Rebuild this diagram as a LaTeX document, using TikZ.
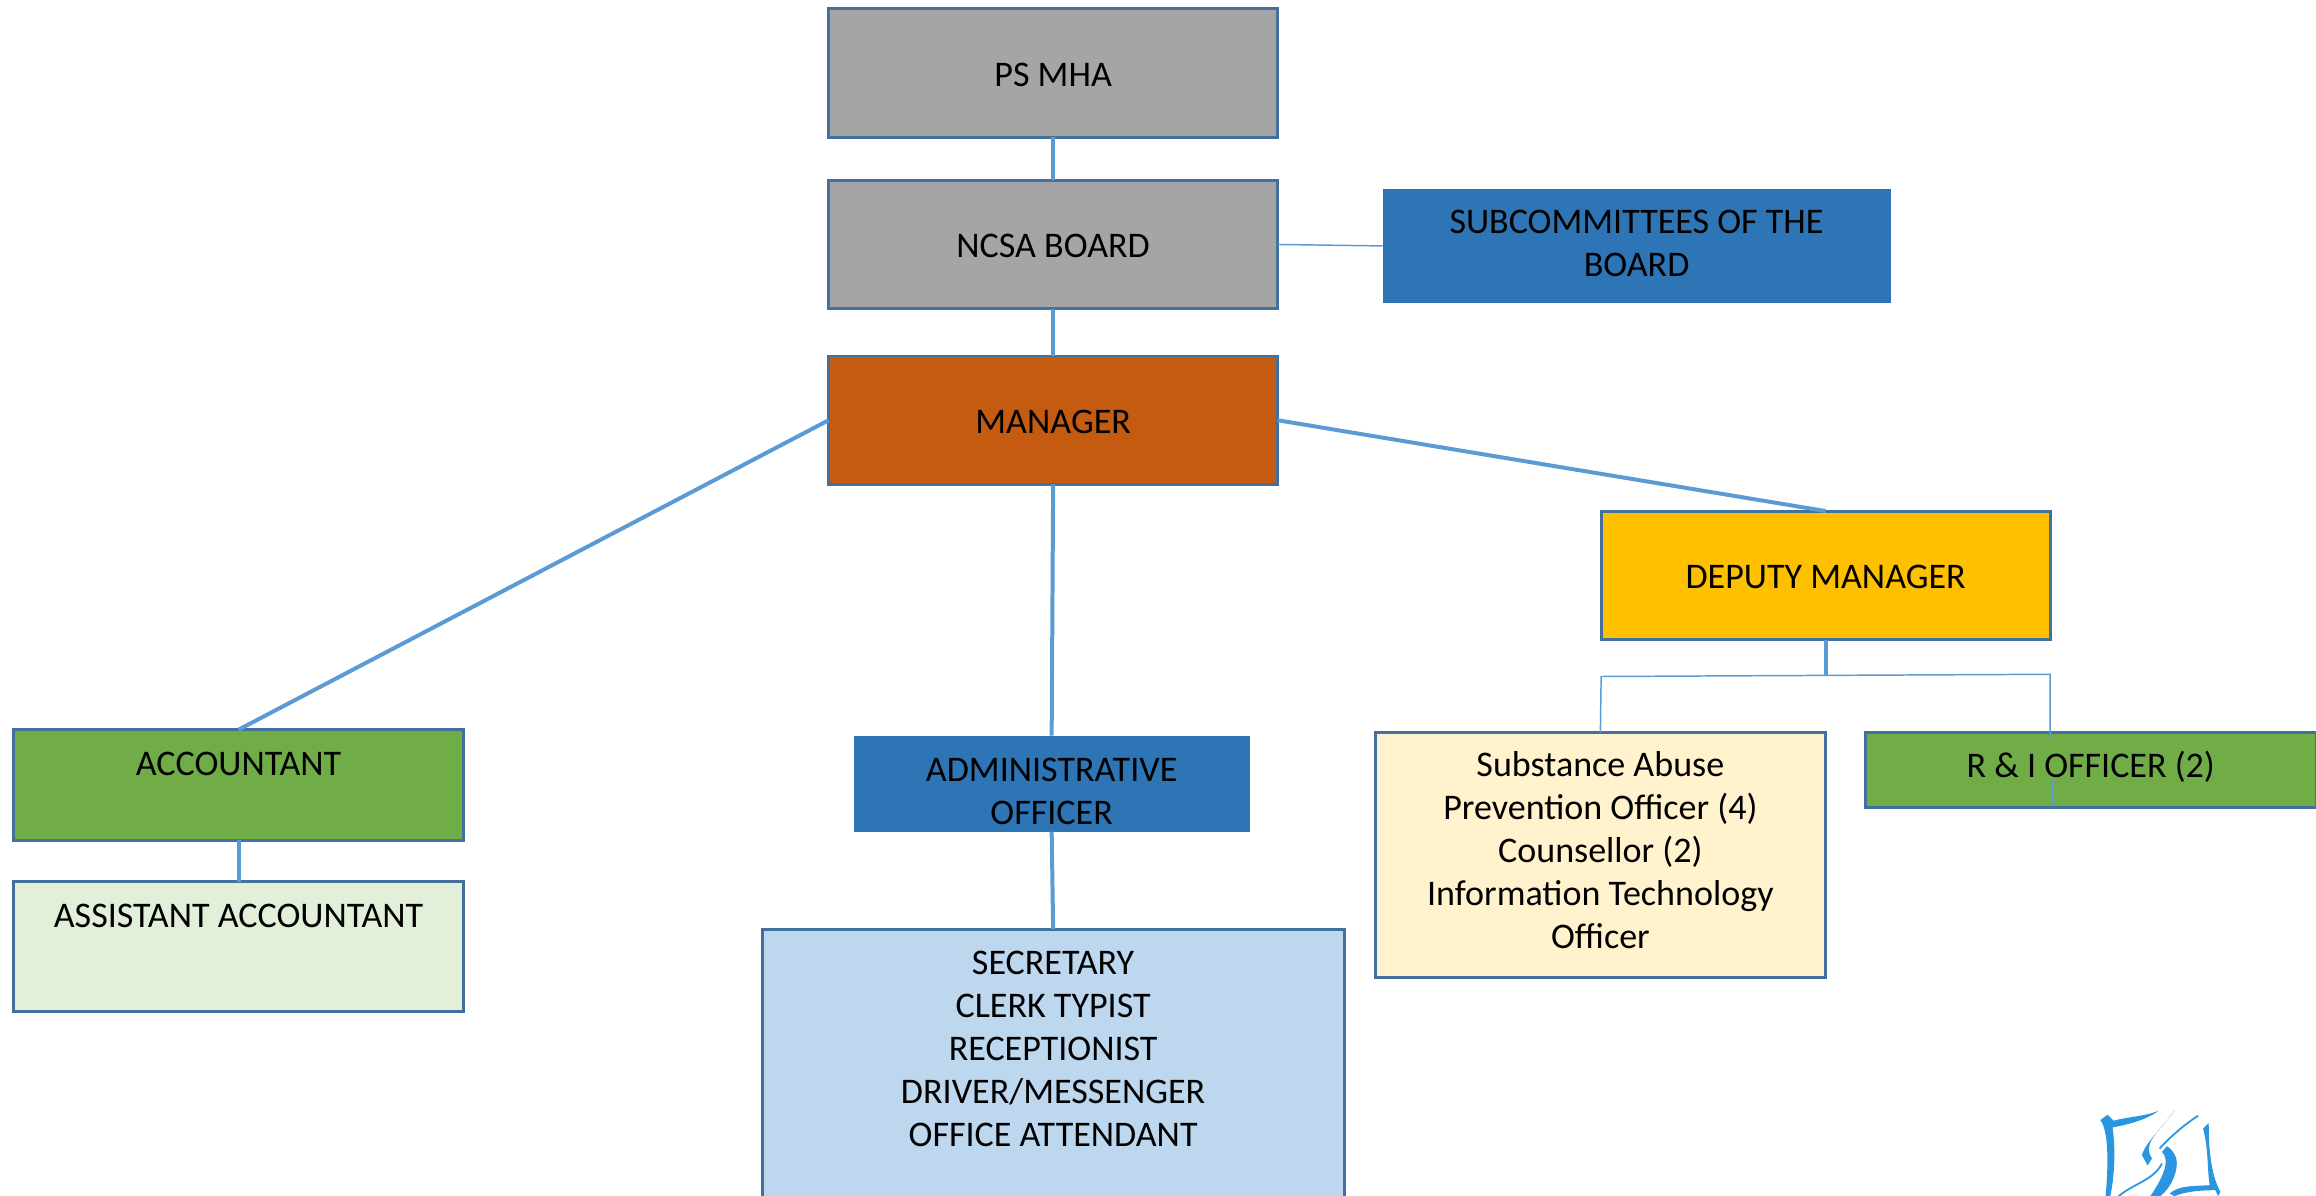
\documentclass[tikz,border=0pt]{standalone}
\usepackage{fontspec}
\setmainfont{Carlito}
\usepackage{tikz}
\usetikzlibrary{positioning}
\definecolor{linkblue}{HTML}{5B9BD5}
\definecolor{edgeblue}{HTML}{41719C}
\definecolor{logoblue}{HTML}{2A96E0}
\definecolor{greybox}{HTML}{A5A5A5}
\definecolor{orangebox}{HTML}{C55A11}
\definecolor{yellowbox}{HTML}{FFC000}
\definecolor{greenbox}{HTML}{70AD47}
\definecolor{palegreen}{HTML}{E2EFD9}
\definecolor{bluebox}{HTML}{2E75B6}
\definecolor{paleblue}{HTML}{BDD7EE}
\definecolor{cream}{HTML}{FFF2CC}
\tikzset{
  office/.style={draw=edgeblue, line width=1pt, align=center, inner sep=0pt, outer sep=0pt,
    font=\fontsize{12.2}{14.6}\selectfont},
  flat/.style={office, draw=none},
  oneline/.style={office, text height=9pt},
  link/.style={draw=linkblue, line width=1.35pt},
  thinlink/.style={draw=linkblue, line width=.5pt}
}
\newcommand{\drawl}{\draw[link]}
\newcommand{\drawt}{\draw[thinlink]}

\begin{document}
\begin{tikzpicture}[x=.5pt,y=-.5pt]
\useasboundingbox (0,0) rectangle (1568,809.7);

% Top of the chart
\node[oneline, fill=greybox, minimum width=152pt, minimum height=43.5pt] (psmha) at (713,49.5) {PS MHA};
\node[oneline, fill=greybox, minimum width=152pt, minimum height=43.5pt] (board) at (713,165.5) {NCSA BOARD};
\node[flat, text height=21pt, fill=bluebox, minimum width=172pt, minimum height=38.5pt] (subcom) at (1108,166.5) {SUBCOMMITTEES OF THE\\BOARD};
\node[oneline, fill=orangebox, minimum width=152pt, minimum height=43.5pt] (manager) at (713,284.5) {MANAGER};
\node[oneline, fill=yellowbox, minimum width=152pt, minimum height=43.5pt] (deputy) at (1236,389.5) {DEPUTY MANAGER};

% Left branch
\node[office, fill=greenbox, minimum width=152.5pt, minimum height=37.5pt] (accountant) at (161.5,531.5) {ACCOUNTANT\\\mbox{}};
\node[office, fill=palegreen, minimum width=152.5pt, minimum height=44pt] (assistant) at (161.5,641) {ASSISTANT ACCOUNTANT\\[6.4pt]\mbox{}};

% Middle branch
\node[flat, text height=28pt, fill=bluebox, minimum width=134pt, minimum height=32.5pt] (admin) at (712,530.5) {ADMINISTRATIVE\\OFFICER};
\node[office, fill=paleblue, minimum width=197pt, minimum height=92pt] (staff) at (713,721) {SECRETARY\\CLERK TYPIST\\RECEPTIONIST\\DRIVER/MESSENGER\\OFFICE ATTENDANT\\[-3.6pt]\mbox{}};

% Right branch
\node[office, fill=cream, minimum width=152.5pt, minimum height=83pt] (officers) at (1083.5,579) {Substance Abuse\\Prevention Officer (4)\\Counsellor (2)\\Information Technology\\Officer\\[-11pt]\mbox{}};
\node[office, fill=greenbox, minimum width=152.5pt, minimum height=25.5pt] (records) at (1415.5,521.5) {R \& I OFFICER (2)\\[-10.5pt]\mbox{}};

% Connectors
\drawl (psmha.south) -- (board.north);
\drawt (board.east) -- (subcom.west);
\drawl (board.south) -- (manager.north);
\drawl (manager.west) -- (accountant.north);
\drawl (accountant.south) -- (assistant.north);
\drawl (manager.south) -- (admin.north);
\drawl (admin.south) -- (staff.north);
\drawl (manager.east) -- (deputy.north);

\coordinate (fork) at (1236,457);
\coordinate (forkleft) at (1084,458);
\coordinate (forkright) at (1388,456.5);
\coordinate (recordstop) at (1388,499);
\drawl (deputy.south) -- (fork);
\drawt (officers.north) -- (forkleft) -- (forkright) -- (recordstop);

% Stub seen inside the green box
\coordinate (stubtop) at (1389.5,528);
\coordinate (stubend) at (1389.5,546);
\drawt (stubtop) -- (stubend);

% Logo
\begin{scope}[shift={(1388,731.2)},x=.113pt,y=-.113pt]
\fill[logoblue] (325,92) .. controls (280,110) and (230,110) .. (190,122) -- (172,104) -- (150,120)
  .. controls (175,150) and (175,250) .. (166,348) -- (180,348)
  .. controls (195,280) and (195,200) .. (187,142) .. controls (240,132) and (290,118) .. (325,92) -- cycle;
\fill[logoblue] (475,128) -- (458,145) .. controls (475,210) and (470,270) .. (478,315)
  .. controls (430,318) and (385,315) .. (358,340) -- (372,348)
  .. controls (410,332) and (460,330) .. (495,330) -- (503,348) -- (510,335)
  .. controls (480,280) and (475,200) .. (475,128) -- cycle;
\fill[logoblue] (372,90) .. controls (350,130) and (285,185) .. (275,225) -- (292,256) -- (305,235)
  .. controls (290,215) and (295,190) .. (310,170) .. controls (330,140) and (360,115) .. (372,90) -- cycle;
\fill[logoblue] (350,198) -- (335,215) .. controls (360,240) and (340,290) .. (300,348) -- (330,348)
  .. controls (365,320) and (385,270) .. (378,235) .. controls (372,218) and (362,205) .. (350,198) -- cycle;
\draw[logoblue, line width=.6pt] (443,107) .. controls (400,135) and (360,170) .. (328,205);
\draw[logoblue, line width=.6pt] (335,250) .. controls (310,300) and (250,310) .. (205,348);
\end{scope}
\end{tikzpicture}
\end{document}
